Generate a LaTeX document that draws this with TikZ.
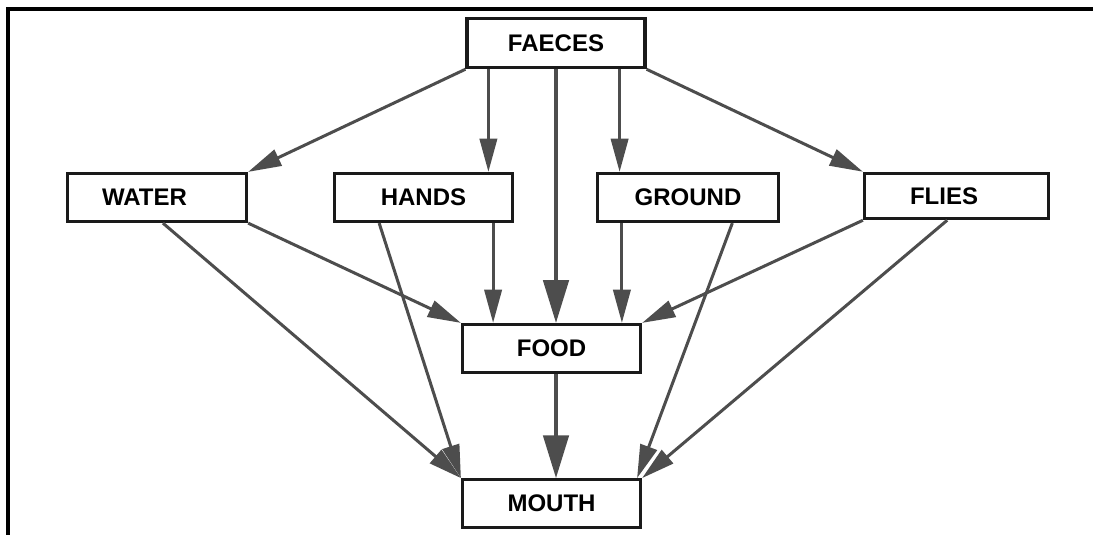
\documentclass[tikz,border=0pt]{standalone}
\usepackage{xcolor}
\usepackage{fontspec}
\setmainfont{Liberation Sans}
\usepackage{tikz}
\usetikzlibrary{arrows.meta, positioning, calc}
\definecolor{linkgray}{HTML}{4D4D4D}
\definecolor{boxblack}{HTML}{1A1A1A}

\begin{document}
\begin{tikzpicture}[x=0.75pt, y=-0.75pt,
    box/.style={rectangle, draw=boxblack, line width=2.4pt, fill=white, minimum width=133.5pt, minimum height=36pt, inner sep=0pt, font=\fontsize{18}{21}\selectfont\bfseries},
    arrow/.style={-{Triangle[length=25pt, width=13pt]}, line width=2.25pt, color=linkgray},
    bigarrow/.style={-{Triangle[length=32pt, width=19pt]}, line width=2.6pt, color=linkgray}]

    \useasboundingbox[fill=white] (0,0) rectangle (1093,535);
    \draw[line width=3pt] (8,535) -- (8,9) -- (1093,9);

    \node[box, minimum height=37pt] (faeces) at (556,43) {FAECES};
    \node[box, minimum width=134.25pt] (water) at (157,197.5) {WATER\hspace*{18.75pt}};
    \node[box] (hands) at (423.5,197.5) {HANDS};
    \node[box, minimum width=135.75pt] (ground) at (688,197.5) {GROUND};
    \node[box, minimum width=138pt, minimum height=34pt] (flies) at (956.5,196) {FLIES\hspace*{18.75pt}};
    \node[box] (food) at (551.5,348.5) {FOOD};
    \node[box, below=78pt of food] (mouth) {MOUTH};

    \draw[arrow] (faeces.south west) -- (water.north east);
    \draw[arrow] ($(faeces.south west)+(23,0)$) coordinate (fh) -- (fh |- hands.north);
    \draw[bigarrow] (faeces.south) -- (faeces.south |- food.north);
    \draw[arrow] ($(faeces.south east)+(-27,0)$) coordinate (fg) -- (fg |- ground.north);
    \draw[arrow] (faeces.south east) -- (flies.north west);

    \draw[arrow] (water.south east) -- (food.north west);
    \draw[arrow] (water.-77) -- (mouth.north west);
    \draw[arrow] ($(hands.south east)+(-21,0)$) coordinate (hf) -- (hf |- food.north);
    \draw[arrow] (hands.-150.7) -- (mouth.north west);
    \draw[arrow] ($(ground.south west)+(26,0)$) coordinate (gf) -- (gf |- food.north);
    \draw[arrow] (ground.-30.1) -- ($(mouth.north east)+(-5,0)$);
    \draw[arrow] (flies.south west) -- (food.north east);
    \draw[arrow] (flies.-111.6) -- (mouth.north east);

    \draw[bigarrow] (faeces.south |- food.south) -- (faeces.south |- mouth.north);

\end{tikzpicture}
\end{document}
